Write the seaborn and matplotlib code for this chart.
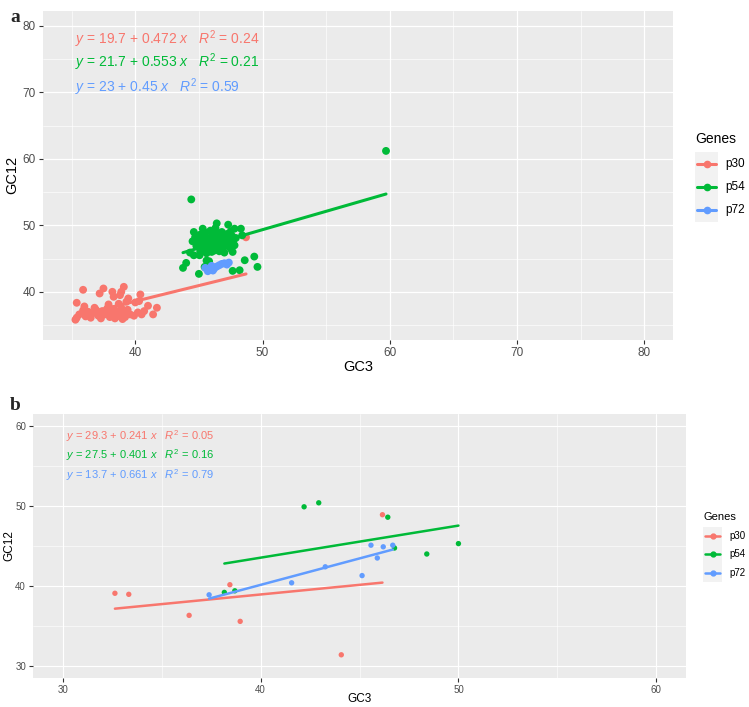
import numpy as np
import pandas as pd
import matplotlib
matplotlib.use("Agg")
import matplotlib.pyplot as plt
import seaborn as sns
from matplotlib.lines import Line2D
from matplotlib.patches import Rectangle

# ---------------- data ----------------
genes = ["p30", "p54", "p72"]
colors = ["#F8766D", "#00BA38", "#619CFF"]

# Panel a
a_p30_gc3 = [35.9, 35.4, 35.4, 35.3, 35.6, 35.9, 36.1, 36.3, 36.5, 36.7, 36.9, 37.1, 37.3, 37.4,
             37.6, 37.8, 38.0, 38.1, 38.3, 38.5, 38.6, 38.8, 38.9, 39.1, 39.2, 39.4, 39.6, 37.5,
             37.2, 38.2, 38.3, 39.1, 38.9, 38.8, 39.45, 40.4, 40.0, 40.3, 41.0, 41.7, 41.4, 40.2,
             39.9, 40.7, 36.0, 36.8, 37.9, 38.7, 39.3, 37.0, 36.2, 38.4, 39.0, 40.5, 48.7]
a_p30_gc12 = [40.3, 38.35, 36.1, 35.8, 36.6, 37.2, 36.3, 37.0, 36.1, 36.8, 37.3, 36.4, 36.0, 37.1,
              36.6, 37.5, 36.2, 36.9, 37.4, 36.5, 37.0, 36.3, 37.6, 36.8, 36.2, 37.3, 36.6, 40.5,
              39.75, 40.0, 39.25, 40.75, 40.0, 39.5, 39.0, 39.6, 38.4, 38.6, 37.9, 37.6, 36.6, 36.9,
              36.4, 37.1, 37.8, 37.6, 38.1, 38.2, 38.5, 37.0, 36.9, 36.0, 35.9, 36.6, 48.2]

a_p54_gc3 = [59.7, 44.4, 46.4, 47.3, 47.8, 48.3, 44.6, 45.3, 48.4,
             44.7, 44.9, 45.0, 45.1, 45.2, 45.3, 45.4, 45.5, 45.6, 45.7, 45.8, 45.9, 46.0, 46.1,
             46.2, 46.3, 46.4, 46.5, 46.6, 46.7, 46.8, 46.9, 47.0, 47.1, 47.2, 47.3, 47.4, 47.5,
             47.6, 47.7, 47.8, 47.9, 44.8, 45.1, 45.6, 46.0, 46.6, 47.0, 47.65, 46.2, 45.4, 46.3,
             47.5, 45.8, 46.9, 44.5, 44.6, 45.05,
             43.75, 44.0, 45.6, 45.8, 45.45, 45.0, 47.65, 48.2, 48.6, 49.35, 49.6, 44.3]
a_p54_gc12 = [61.2, 53.9, 50.3, 50.1, 49.5, 49.5, 49.0, 49.5, 48.5,
              48.2, 47.5, 46.8, 48.6, 47.9, 47.1, 46.4, 48.9, 48.1, 47.4, 46.7, 49.2, 48.4, 47.7,
              47.0, 46.3, 48.8, 48.0, 47.3, 46.6, 49.0, 48.3, 47.6, 46.9, 48.7, 47.9, 47.2, 46.5,
              48.4, 47.7, 47.0, 48.1, 46.9, 46.1, 45.8, 46.0, 46.1, 45.9, 46.0, 46.2, 47.6, 49.6,
              49.1, 48.0, 47.0, 47.6, 45.5, 45.5,
              43.6, 44.35, 44.7, 44.6, 43.75, 42.7, 43.15, 43.25, 44.75, 45.3, 43.75, 45.9]

a_p72_gc3 = [45.5, 45.7, 45.9, 46.0, 46.2, 46.4, 46.6, 46.8, 47.0, 47.2, 47.35, 46.1]
a_p72_gc12 = [43.6, 43.1, 43.4, 43.9, 43.5, 43.8, 44.0, 44.2, 44.3, 44.1, 44.4, 43.2]

a_intercepts = [19.7, 21.7, 23]
a_slopes = [0.472, 0.553, 0.45]
a_r2 = ["0.24", "0.21", "0.59"]

# Panel b
b_p30_gc3 = [32.64, 33.34, 36.39, 38.45, 38.97, 46.16, 44.08]
b_p30_gc12 = [39.09, 38.96, 36.33, 40.16, 35.58, 48.91, 31.4]
b_p54_gc3 = [42.2, 42.94, 46.43, 46.77, 48.4, 50.0, 38.17, 38.7]
b_p54_gc12 = [49.9, 50.4, 48.6, 44.75, 44.0, 45.3, 39.2, 39.4]
b_p72_gc3 = [37.4, 41.57, 43.27, 45.13, 45.58, 45.9, 46.2, 46.68]
b_p72_gc12 = [38.9, 40.4, 42.4, 41.3, 45.1, 43.5, 44.9, 45.1]

b_intercepts = [29.3, 27.5, 13.7]
b_slopes = [0.241, 0.401, 0.661]
b_r2 = ["0.05", "0.16", "0.79"]


def make_df(xs, ys):
    rows = []
    for g, x, y in zip(genes, xs, ys):
        rows.append(pd.DataFrame({"GC3": x, "GC12": y, "Genes": g}))
    return pd.concat(rows, ignore_index=True)


df_a = make_df([a_p30_gc3, a_p54_gc3, a_p72_gc3], [a_p30_gc12, a_p54_gc12, a_p72_gc12])
df_b = make_df([b_p30_gc3, b_p54_gc3, b_p72_gc3], [b_p30_gc12, b_p54_gc12, b_p72_gc12])


def fit_lines(df, intercepts, slopes):
    rows = []
    for g, a, b in zip(genes, intercepts, slopes):
        sub = df[df.Genes == g]
        xs = np.array([sub.GC3.min(), sub.GC3.max()])
        rows.append(pd.DataFrame({"GC3": xs, "GC12": a + b * xs, "Genes": g}))
    return pd.concat(rows, ignore_index=True)


# ---------------- style ----------------
sns.set_theme(style="darkgrid")
plt.rcParams["font.family"] = ["Liberation Sans", "DejaVu Sans"]
plt.rcParams["mathtext.fontset"] = "custom"
plt.rcParams["mathtext.rm"] = "Liberation Sans"
plt.rcParams["mathtext.it"] = "Liberation Sans:italic"

W, H = 749, 707
fig = plt.figure(figsize=(W / 100, H / 100), dpi=100)
fig.patch.set_facecolor("white")
palette = dict(zip(genes, colors))


def px_axes(l, t, r, b):
    return fig.add_axes([l / W, 1 - b / H, (r - l) / W, (b - t) / H])


def style_axes(ax, lim, majors, minors, tick_fs, grid_major_lw, grid_minor_lw):
    ax.set_facecolor("#EBEBEB")
    for s in ax.spines.values():
        s.set_visible(False)
    ax.set_xlim(*lim)
    ax.set_ylim(*lim)
    ax.set_xticks(majors)
    ax.set_yticks(majors)
    ax.set_xticks(minors, minor=True)
    ax.set_yticks(minors, minor=True)
    ax.grid(True, which="major", color="white", linewidth=grid_major_lw)
    ax.grid(True, which="minor", color="white", linewidth=grid_minor_lw)
    ax.set_axisbelow(True)
    ax.tick_params(which="major", length=3, width=0.8, color="#333333",
                   labelcolor="#4D4D4D", labelsize=tick_fs, pad=2, direction="out",
                   bottom=True, left=True)
    ax.tick_params(which="minor", length=0)


def draw_panel(ax, df, intercepts, slopes, r2s, s, lw, eq_fs, eq_y):
    sns.scatterplot(data=df, x="GC3", y="GC12", hue="Genes", palette=palette,
                    s=s, linewidth=0, ax=ax, legend=False, zorder=3)
    lines = fit_lines(df, intercepts, slopes)
    sns.lineplot(data=lines, x="GC3", y="GC12", hue="Genes", palette=palette,
                 units="Genes", estimator=None, linewidth=lw, ax=ax, legend=False,
                 zorder=4)
    for g, c, a, b, r2, yy in zip(genes, colors, intercepts, slopes, r2s, eq_y):
        label = rf"$y$ = {a} + {b} $x$   $R^2$ = {r2}"
        ax.text(0.051, yy, label, transform=ax.transAxes, color=c, fontsize=eq_fs,
                ha="left", va="center")


def draw_legend(x0, ytitle, keys_y, box, title_fs, lab_fs, lw, ms):
    fig.text(x0 / W, 1 - ytitle / H, "Genes", fontsize=title_fs, color="black",
             ha="left", va="center")
    bl, bt, br, bb = box
    fig.add_artist(Rectangle((bl / W, 1 - bb / H), (br - bl) / W, (bb - bt) / H,
                             transform=fig.transFigure, facecolor="#F2F2F2",
                             edgecolor="none"))
    for g, c, ky in zip(genes, colors, keys_y):
        fig.add_artist(Line2D([(bl + 2) / W, (br - 2) / W], [1 - ky / H, 1 - ky / H],
                              transform=fig.transFigure, color=c, linewidth=lw))
        fig.add_artist(Line2D([(bl + br) / 2 / W], [1 - ky / H], transform=fig.transFigure,
                              color=c, marker="o", markersize=ms, linestyle="none"))
        fig.text((br + 7) / W, 1 - ky / H, g, fontsize=lab_fs, color="black",
                 ha="left", va="center")


# ---------------- panel a ----------------
ax_a = px_axes(43, 11, 673, 340)
style_axes(ax_a, (32.75, 82.25), [40, 50, 60, 70, 80], [35, 45, 55, 65, 75],
           tick_fs=8.5, grid_major_lw=0.9, grid_minor_lw=0.45)
draw_panel(ax_a, df_a, a_intercepts, a_slopes, a_r2, s=32, lw=2.2, eq_fs=10,
           eq_y=[0.915, 0.845, 0.769])
ax_a.set_xlabel("GC3", fontsize=10.5, color="black")
ax_a.set_ylabel("GC12", fontsize=10.5, color="black")
ax_a.xaxis.set_label_coords((358 - 43) / 630, -(367 - 340) / 329)
ax_a.yaxis.set_label_coords(-(43 - 12) / 630, (340 - 175) / 329)
ax_a.xaxis.label.set_va("center")
ax_a.yaxis.label.set_va("center")
fig.text(10 / W, 1 - 18 / H, "a", fontsize=14, fontweight="bold",
         family="Liberation Serif", ha="left", va="center")
draw_legend(695, 139, [164, 187, 210], (695, 152, 718, 222), title_fs=10, lab_fs=8.5,
            lw=2.2, ms=4.5)

# ---------------- panel b ----------------
ax_b = px_axes(33, 414, 686, 678)
style_axes(ax_b, (28.5, 61.5), [30, 40, 50, 60], [35, 45, 55],
           tick_fs=7, grid_major_lw=0.8, grid_minor_lw=0.4)
draw_panel(ax_b, df_b, b_intercepts, b_slopes, b_r2, s=15, lw=1.8, eq_fs=8,
           eq_y=[0.917, 0.845, 0.769])
ax_b.set_xlabel("GC3", fontsize=8.5, color="black")
ax_b.set_ylabel("GC12", fontsize=8.5, color="black")
ax_b.xaxis.set_label_coords((360 - 33) / 653, -(699 - 678) / 264)
ax_b.yaxis.set_label_coords(-(33 - 9) / 653, (678 - 546) / 264)
ax_b.xaxis.label.set_va("center")
ax_b.yaxis.label.set_va("center")
fig.text(10 / W, 1 - 405 / H, "b", fontsize=14, fontweight="bold",
         family="Liberation Serif", ha="left", va="center")
draw_legend(703, 517, [536, 554, 573], (703, 527, 722, 582), title_fs=8, lab_fs=7,
            lw=1.8, ms=3.5)

fig.savefig("out.png", dpi=100, facecolor="white")
